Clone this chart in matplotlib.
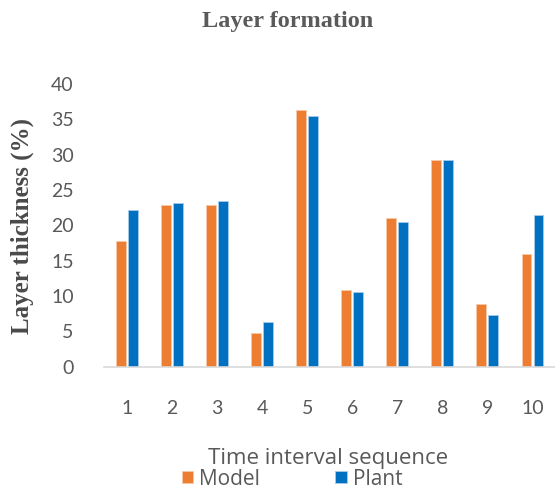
import matplotlib
matplotlib.use("Agg")
import matplotlib.pyplot as plt
import numpy as np

categories = ["1", "2", "3", "4", "5", "6", "7", "8", "9", "10"]
model = [17.8, 22.9, 22.9, 4.8, 36.3, 10.8, 21.0, 29.2, 8.8, 15.9]
plant = [22.1, 23.2, 23.5, 6.3, 35.5, 10.5, 20.4, 29.2, 7.3, 21.5]
yticks = [0, 5, 10, 15, 20, 25, 30, 35, 40]

orange = "#ED7D31"
blue = "#0070C0"
gray = "#595959"

fig = plt.figure(figsize=(5.55, 4.9), dpi=100)
ax = fig.add_axes([0.188, 0.252, 0.812, 0.5766])

x = np.arange(1, len(categories) + 1)
w = 0.22
off = 0.133
ax.bar(x - off, model, width=w, color=orange, edgecolor="#F8C9A8", linewidth=0.6, label="Model")
ax.bar(x + off, plant, width=w, color=blue, edgecolor="#A8CCEA", linewidth=0.6, label="Plant")

ax.set_xlim(0.5, 10.5)
ax.set_ylim(0, 40)
ax.set_yticks(yticks)
ax.set_xticks(x)
ax.set_xticklabels(categories)
for s in ["top", "right", "left"]:
    ax.spines[s].set_visible(False)
ax.spines["bottom"].set_color("#D9D9D9")
ax.spines["bottom"].set_linewidth(1.2)
ax.tick_params(axis="both", length=0, labelsize=14, labelcolor=gray)
ax.tick_params(axis="y", pad=22)
ax.tick_params(axis="x", pad=24)
for lab in ax.get_xticklabels() + ax.get_yticklabels():
    lab.set_fontfamily("Lato")

fig.text(288 / 555, 1 - 22 / 490, "Layer formation", ha="center", va="center",
         fontsize=17.5, fontweight="bold", family="Liberation Serif", color="#5a5a5a")
fig.text(22 / 555, 1 - 226 / 490, "Layer thickness (%)", ha="center", va="center",
         rotation=90, fontsize=18, fontweight="bold", family="Liberation Serif", color="#4a4a4a")
fig.text(328 / 555, 1 - 458 / 490, "Time interval sequence", ha="center", va="center",
         fontsize=16, family="Open Sans", color=gray)

handles, labels = ax.get_legend_handles_labels()
leg = fig.legend(handles, labels, loc="center", bbox_to_anchor=(292 / 555, 1 - 479 / 490),
                 ncol=2, frameon=False, handlelength=0.55, handleheight=0.55,
                 handletextpad=0.3, columnspacing=3.6, borderpad=0,
                 prop={"family": "Open Sans", "size": 15})
for t in leg.get_texts():
    t.set_color(gray)

fig.savefig("out.png", dpi=100)
